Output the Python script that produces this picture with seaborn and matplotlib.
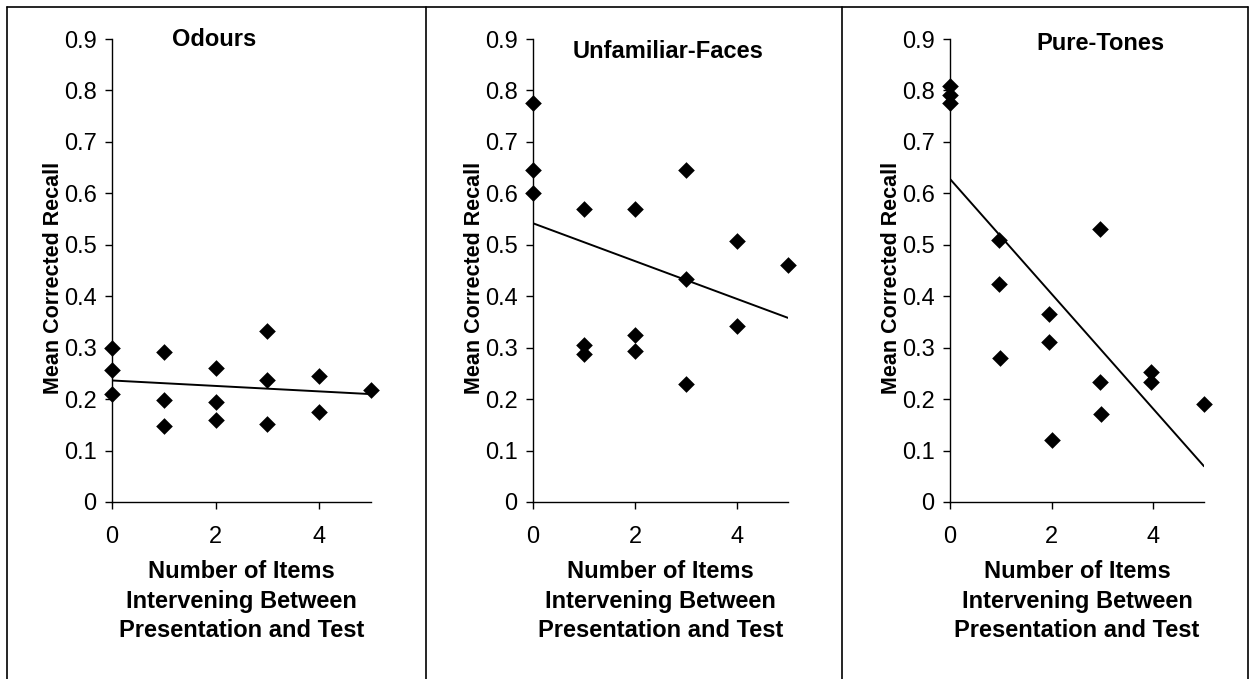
import matplotlib
matplotlib.use("Agg")
import matplotlib.pyplot as plt
from matplotlib.lines import Line2D
import seaborn as sns
import pandas as pd

# values
odours_x = [0, 0, 0, 1, 1, 1, 2, 2, 2, 3, 3, 3, 4, 4, 5]
odours_y = [0.300, 0.257, 0.210, 0.292, 0.199, 0.147, 0.261, 0.195, 0.160,
            0.332, 0.237, 0.152, 0.245, 0.175, 0.217]

faces_x = [0, 0, 0, 1, 1, 1, 2, 2, 2, 3, 3, 3, 4, 4, 5]
faces_y = [0.775, 0.645, 0.601, 0.570, 0.305, 0.287, 0.570, 0.324, 0.294,
           0.645, 0.433, 0.229, 0.507, 0.342, 0.460]

tones_x = [0, 0, 0, 0.97, 0.97, 0.98, 1.95, 1.95, 2.0, 2.95, 2.95, 2.97, 3.96, 3.96, 5]
tones_y = [0.808, 0.792, 0.776, 0.510, 0.424, 0.280, 0.366, 0.311, 0.121,
           0.530, 0.234, 0.171, 0.253, 0.234, 0.190]

panel_titles = ["Odours", "Unfamiliar-Faces", "Pure-Tones"]
y_ticks = [0, 0.1, 0.2, 0.3, 0.4, 0.5, 0.6, 0.7, 0.8, 0.9]
y_tick_labels = ["0", "0.1", "0.2", "0.3", "0.4", "0.5", "0.6", "0.7", "0.8", "0.9"]
x_ticks = [0, 2, 4]

sns.set_style("ticks")
plt.rcParams['font.family'] = ['Liberation Sans', 'DejaVu Sans']
plt.rcParams['text.color'] = 'black'
plt.rcParams['axes.labelcolor'] = 'black'

W, H = 1251, 679
fig = plt.figure(figsize=(W / 100, H / 100), dpi=100)

# axes rectangles in pixels: left, right, top(0.9), bottom(0)
boxes = [(112, 371, 39, 502), (533, 788, 39, 502), (950, 1204, 39, 502)]
title_pos = [(0.394, 0.998), (0.531, 0.972), (0.594, 0.991)]
datasets = [(odours_x, odours_y), (faces_x, faces_y), (tones_x, tones_y)]

for (l, r, t, b), (xs, ys), title, (tx, ty) in zip(boxes, datasets, panel_titles, title_pos):
    ax = fig.add_axes([l / W, 1 - b / H, (r - l) / W, (b - t) / H])
    df = pd.DataFrame({"items": xs, "recall": ys})
    sns.regplot(data=df, x="items", y="recall", ax=ax, ci=None, marker="D",
                color="black",
                scatter_kws={"s": 72, "clip_on": False, "zorder": 5,
                             "linewidths": 0, "alpha": 1},
                line_kws={"lw": 1.4, "color": "black"})
    ax.set_xlim(0, 5)
    ax.set_ylim(0, 0.9)
    ax.set_xticks(x_ticks)
    ax.set_yticks(y_ticks)
    ax.set_yticklabels(y_tick_labels)
    sns.despine(ax=ax)
    for s in ["left", "bottom"]:
        ax.spines[s].set_color("black")
        ax.spines[s].set_linewidth(1.0)
    ax.tick_params(axis="y", direction="out", length=5, width=1, pad=6,
                   labelsize=17, colors="black")
    ax.tick_params(axis="x", direction="out", length=5, width=1, pad=12,
                   labelsize=17, colors="black")
    ax.set_ylabel("Mean Corrected Recall", fontsize=15.5, fontweight="bold")
    ax.yaxis.set_label_coords(-48 / (r - l), 0.485)
    ax.set_xlabel("Number of Items\nIntervening Between\nPresentation and Test",
                  fontsize=17, fontweight="bold", linespacing=1.36, labelpad=9)
    ax.text(tx, ty, title, transform=ax.transAxes, ha="center", va="center",
            fontsize=17, fontweight="bold")
    ax.patch.set_alpha(0)

# panel frames
top = 1 - 7 / H
for xp in [7, 426, 842, 1248]:
    fig.add_artist(Line2D([xp / W, xp / W], [top, 0], color="black", lw=1.2))
fig.add_artist(Line2D([7 / W, 1248 / W], [top, top], color="black", lw=1.2))

fig.savefig("out.png", dpi=100, facecolor="white")
